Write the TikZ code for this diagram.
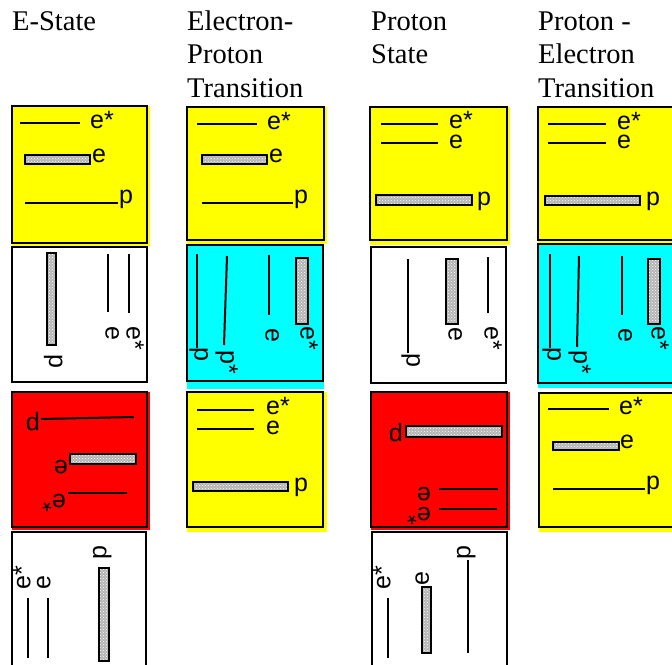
\documentclass[tikz,border=0pt]{standalone}
\usepackage{fontspec}
\setmainfont{Liberation Serif}
\newfontfamily\lblfont{Liberation Sans}
\usetikzlibrary{patterns}
\definecolor{stateyellow}{HTML}{FFFF00}
\definecolor{statecyan}{HTML}{00FFFF}
\definecolor{statered}{HTML}{FF0000}
\definecolor{barfill}{HTML}{B4B4B4}

\begin{document}
\begin{tikzpicture}[x=1pt,y=-1pt,
 statebox/.style={draw=black,line width=2pt},
 lvl/.style={draw=black,line width=2pt},
 levelbar/.style={draw=black,line width=1.6pt,preaction={fill=barfill},pattern=crosshatch dots,pattern color=white},
 lbl/.style={font=\lblfont\fontsize{25}{25}\selectfont,inner sep=0pt,anchor=mid west},
 coltitle/.style={font=\fontsize{28.5}{33.5}\selectfont,align=left,inner sep=0pt,anchor=base west}
]
\useasboundingbox (0,0) rectangle (672,664);

% column titles (base = last line)
\node[coltitle] (tstate) at (12,30) {E-State};
\node[coltitle] (tep) at (187,97) {Electron-\\Proton\\Transition};
\node[coltitle] (tps) at (371,63.5) {Proton\\State};
\node[coltitle] (tpe) at (538,97) {Proton -\\Electron\\Transition};

% fills
\fill[stateyellow] (12,106) rectangle (150,246);
\fill[statered] (12,392) rectangle (150,530);
\fill[stateyellow] (187,107) rectangle (327,244);
\fill[statecyan] (187,245) rectangle (324,389);
\fill[stateyellow] (187,392) rectangle (327,532);
\fill[stateyellow] (370,107) rectangle (510,245);
\fill[statered] (371,392) rectangle (510,530);
\fill[stateyellow] (538,107) rectangle (680,243);
\fill[statecyan] (538,244) rectangle (680,388);
\fill[stateyellow] (539,393) rectangle (680,532);

% frames
\draw[statebox] (12,106) rectangle (147,243);
\draw[statebox] (12,247) rectangle (147,382);
\draw[statebox] (12,392) rectangle (147,527);
\draw[statebox] (12,532) rectangle (146,670);
\draw[statebox] (187,107) rectangle (324,240);
\draw[statebox] (187,245) rectangle (323,381);
\draw[statebox] (187,392) rectangle (323,527);
\draw[statebox] (370,107) rectangle (507,240);
\draw[statebox] (371,247) rectangle (506,383);
\draw[statebox] (371,392) rectangle (507,527);
\draw[statebox] (372,532) rectangle (507,670);
\draw[statebox] (538,107) rectangle (676,240);
\draw[statebox] (538,244) rectangle (676,383);
\draw[statebox] (539,393) rectangle (676,527);

% E-State
\draw[lvl] (20,123) -- (80,123);
\node[lbl] (a1es) at (90,126) {e*};
\draw[levelbar] (25,155) rectangle (90,164);
\node[lbl] (a1e) at (92,160) {e};
\draw[lvl] (25,203) -- (118,203);
\node[lbl] (a1p) at (119,201) {p};

\draw[levelbar] (47,253) rectangle (56,345);
\node[lbl,rotate=-90] (a2p) at (51.5,354) {p};
\draw[lvl] (108,254) -- (108,312);
\node[lbl,rotate=-90] (a2e) at (108,326) {e};
\draw[lvl] (129,254) -- (129,313);
\node[lbl,rotate=-90] (a2es) at (129,326) {e*};

\draw[lvl] (41,419) -- (134,417);
\node[lbl,rotate=180] (a3p) at (40,420) {p};
\draw[levelbar] (70,454) rectangle (136,464);
\node[lbl,rotate=180] (a3e) at (68,463) {e};
\draw[lvl] (68,493) -- (127,493);
\node[lbl,rotate=180] (a3es) at (66,497) {e*};

\draw[lvl] (28,598) -- (28,658);
\node[lbl,rotate=90] (a4es) at (28,590) {e*};
\draw[lvl] (48,598) -- (48,658);
\node[lbl,rotate=90] (a4e) at (48,590) {e};
\draw[levelbar] (99,568) rectangle (109,661);
\node[lbl,rotate=90] (a4p) at (104,560) {p};

% Electron-Proton Transition
\draw[lvl] (197,124) -- (257,124);
\node[lbl] (b1es) at (267,127) {e*};
\draw[levelbar] (202,155) rectangle (267,164);
\node[lbl] (b1e) at (269,160) {e};
\draw[lvl] (202,203) -- (293,203);
\node[lbl] (b1p) at (294,201) {p};

\draw[lvl] (197,254) -- (197,348);
\node[lbl,rotate=-90] (b2p) at (197,347) {p};
\draw[lvl] (227,256) -- (224,345);
\node[lbl,rotate=-90] (b2ps) at (223,350) {p*};
\draw[lvl] (269,255) -- (269,315);
\node[lbl,rotate=-90] (b2e) at (268,328) {e};
\draw[levelbar] (296,258) rectangle (308,324);
\node[lbl,rotate=-90] (b2es) at (303,326) {e*};

\draw[lvl] (197,410) -- (254,410);
\node[lbl] (b3es) at (266,412) {e*};
\draw[lvl] (197,429) -- (254,429);
\node[lbl] (b3e) at (266,432) {e};
\draw[levelbar] (193,482) rectangle (288,491);
\node[lbl] (b3p) at (294,489) {p};

% Proton State
\draw[lvl] (381,124) -- (438,124);
\node[lbl] (c1es) at (449,126.5) {e*};
\draw[lvl] (381,143) -- (438,143);
\node[lbl] (c1e) at (449,146.5) {e};
\draw[levelbar] (376,195) rectangle (472,205);
\node[lbl] (c1p) at (477,203) {p};

\draw[lvl] (408,259) -- (408,353);
\node[lbl,rotate=-90] (c2p) at (409,353) {p};
\draw[levelbar] (446,259) rectangle (458,324);
\node[lbl,rotate=-90] (c2e) at (451,327) {e};
\draw[lvl] (488,257) -- (488,313);
\node[lbl,rotate=-90] (c2es) at (487,326) {e*};

\draw[levelbar] (406,426) rectangle (502,437);
\node[lbl,rotate=180] (c3p) at (403,431) {p};
\draw[lvl] (439,489) -- (498,489);
\node[lbl,rotate=180] (c3e) at (431,490) {e};
\draw[lvl] (439,509) -- (497,509);
\node[lbl,rotate=180] (c3es) at (431,510) {e*};

\draw[lvl] (388,598) -- (388,658);
\node[lbl,rotate=90] (c4es) at (388,590) {e*};
\draw[levelbar] (422,587) rectangle (431,653);
\node[lbl,rotate=90] (c4e) at (426.5,586) {e};
\draw[lvl] (468,560) -- (468,653);
\node[lbl,rotate=90] (c4p) at (468,560) {p};

% Proton - Electron Transition
\draw[lvl] (548,124) -- (606,124);
\node[lbl] (d1es) at (617,127) {e*};
\draw[lvl] (548,143) -- (606,143);
\node[lbl] (d1e) at (617,146.5) {e};
\draw[levelbar] (545,196) rectangle (640,205);
\node[lbl] (d1p) at (646,203) {p};

\draw[lvl] (550,254) -- (550,348);
\node[lbl,rotate=-90] (d2p) at (550,347) {p};
\draw[lvl] (579,256) -- (577,347);
\node[lbl,rotate=-90] (d2ps) at (576,350) {p*};
\draw[lvl] (622,256) -- (622,315);
\node[lbl,rotate=-90] (d2e) at (621,328) {e};
\draw[levelbar] (648,259) rectangle (660,324);
\node[lbl,rotate=-90] (d2es) at (654,326) {e*};

\draw[lvl] (548,409) -- (609,409);
\node[lbl] (d3es) at (619,412) {e*};
\draw[levelbar] (553,442) rectangle (619,450);
\node[lbl] (d3e) at (620,446) {e};
\draw[lvl] (553,489) -- (645,489);
\node[lbl] (d3p) at (646,487) {p};
\end{tikzpicture}
\end{document}
